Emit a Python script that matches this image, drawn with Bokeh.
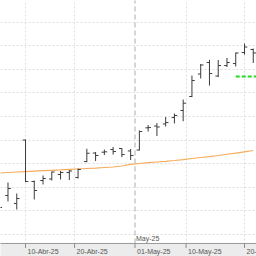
import datetime as dt
from bokeh.plotting import figure
from bokeh.models import Range1d, FixedTicker, ColumnDataSource
from bokeh.embed import file_html
from bokeh.resources import INLINE
from bokeh.core.properties import value

# trading days (weekends and market holidays removed)
dates = ["2025-04-07", "2025-04-08", "2025-04-09", "2025-04-10", "2025-04-11",
         "2025-04-14", "2025-04-15", "2025-04-16", "2025-04-17", "2025-04-22",
         "2025-04-23", "2025-04-24", "2025-04-25", "2025-04-28", "2025-04-29",
         "2025-04-30", "2025-05-02", "2025-05-05", "2025-05-06", "2025-05-07",
         "2025-05-08", "2025-05-09", "2025-05-12", "2025-05-13", "2025-05-14",
         "2025-05-15", "2025-05-16", "2025-05-19", "2025-05-20", "2025-05-21"]
opens = [11807, 11913, 11828, 12501, 12061, 12072, 12088, 12136, 12157, 12104,
         12273, 12363, 12372, 12400, 12411, 12385, 12395, 12630, 12649, 12671,
         12739, 12814, 12962, 13200, 13322, 13179, 13290, 13311, 13428, 13460]
highs = [11881, 12051, 11934, 12506, 12072, 12125, 12167, 12173, 12183, 12199,
         12408, 12374, 12400, 12427, 12416, 12406, 12602, 12660, 12681, 12745,
         12782, 12930, 13184, 13306, 13351, 13349, 13370, 13428, 13523, 13470]
lows = [11712, 11850, 11765, 12056, 11871, 12030, 12072, 12083, 12077, 12093,
        12266, 12279, 12342, 12347, 12319, 12289, 12390, 12591, 12543, 12644,
        12676, 12700, 12955, 13153, 13078, 13168, 13274, 13280, 13407, 13317]
closes = [11786, 11987, 11881, 12061, 11966, 12093, 12162, 12157, 12173, 12189,
          12361, 12337, 12376, 12379, 12347, 12337, 12591, 12633, 12639, 12686,
          12761, 12891, 13131, 13296, 13205, 13290, 13322, 13423, 13486, 13423]
ma = [12151, 12157, 12162, 12167, 12172, 12176, 12180, 12184, 12189, 12194,
      12199, 12204, 12210, 12215, 12226, 12242, 12252, 12261, 12268, 12275,
      12284, 12294, 12305, 12316, 12326, 12337, 12350, 12362, 12376, 12390]
level_value = 13174
level_start = "2025-05-19"
tick_dates = ["2025-04-10", "2025-04-20", "2025-05-01", "2025-05-10", "2025-05-20"]
tick_labels = ["10-Abr-25", "20-Abr-25", "01-May-25", "10-May-25", "20-May-25"]
month_label = "May-25"
month_date = "2025-05-01"
grid_values = [11500 + 250 * k for k in range(10)]

D = [dt.date.fromisoformat(d) for d in dates]
idx = list(range(len(D)))


def date_pos(s):
    t = dt.date.fromisoformat(s)
    for i in range(len(D) - 1):
        if D[i] <= t <= D[i + 1]:
            return i + (t - D[i]).days / (D[i + 1] - D[i]).days
    return float(len(D) - 1)


tick_pos = [date_pos(s) for s in tick_dates]
month_pos = date_pos(month_date)

X0, X1 = 0.144, 29.37
Y0, Y1 = 11267, 13979
AXIS_Y = 11405          # price level at the date axis line
PX = (Y1 - Y0) / 256.0  # price units per pixel

p = figure(width=256, height=256, output_backend="svg", toolbar_location=None,
           x_range=Range1d(X0, X1), y_range=Range1d(Y0, Y1),
           min_border=0)
p.outline_line_color = None
p.background_fill_color = "white"
p.border_fill_color = "white"
p.xaxis.visible = False
p.yaxis.visible = False

p.xgrid.ticker = FixedTicker(ticks=[t for t in tick_pos if abs(t - month_pos) > 1e-6])
p.xgrid.grid_line_color = "#dedede"
p.xgrid.grid_line_dash = "2 2"
p.ygrid.ticker = FixedTicker(ticks=grid_values)
p.ygrid.grid_line_color = "#dedede"
p.ygrid.grid_line_dash = "2 2"

# month separator
p.segment(x0=[month_pos], y0=[AXIS_Y], x1=[month_pos], y1=[Y1 + 50],
          line_color="#c8c8c8", line_dash="5 3", line_width=1.5)

src = ColumnDataSource(dict(x=idx, o=opens, h=highs, l=lows, c=closes, ma=ma,
                            xl=[i - 0.32 for i in idx], xr=[i + 0.32 for i in idx]))
p.line("x", "ma", source=src, line_color="#f6ac5c", line_width=1.2)
p.segment("x", "h", "x", "l", source=src, line_color="#3c3c3c", line_width=1)
p.segment("xl", "o", "x", "o", source=src, line_color="#3c3c3c", line_width=1)
p.segment("x", "c", "xr", "c", source=src, line_color="#3c3c3c", line_width=1)

ls = dates.index(level_start)
p.segment(x0=[ls], y0=[level_value], x1=[len(D) + 1], y1=[level_value],
          line_color="#22dd22", line_width=2, line_dash="4 2")

# date axis band, line, ticks and labels
p.quad(left=[X0 - 1], right=[X1 + 1], bottom=[Y0 - 100], top=[AXIS_Y],
       fill_color="#ececec", line_color=None)
p.segment(x0=[X0 - 1], y0=[AXIS_Y], x1=[X1 + 1], y1=[AXIS_Y],
          line_color="#9a9a9a", line_width=1)
p.segment(x0=tick_pos, y0=[AXIS_Y] * len(tick_pos), x1=tick_pos,
          y1=[AXIS_Y - 4.5 * PX] * len(tick_pos), line_color="#8c8c8c", line_width=1)
p.text(x=tick_pos, y=[AXIS_Y - 8 * PX] * len(tick_pos), text=tick_labels, x_offset=2,
       text_font=value("Liberation Sans"), text_font_size="7px",
       text_color="#555555", text_baseline="middle", text_align="left")

p.text(x=[month_pos], y=[AXIS_Y + 4.5 * PX], text=[month_label], x_offset=1,
       text_font=value("Liberation Sans"), text_font_size="7px",
       text_color="#555555", text_baseline="middle", text_align="left")

open("out.html", "w").write(file_html(p, INLINE))
